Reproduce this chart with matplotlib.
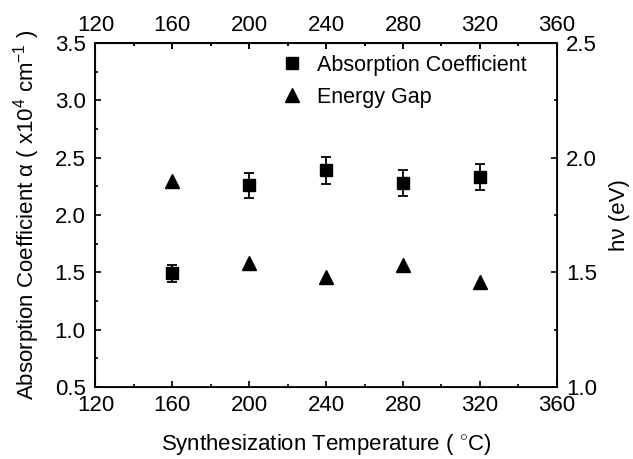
import numpy as np
import matplotlib
matplotlib.use('Agg')
import matplotlib.pyplot as plt
from matplotlib.ticker import MultipleLocator, FormatStrFormatter
from matplotlib.lines import Line2D

plt.rcParams['font.family'] = ['Liberation Sans', 'DejaVu Sans']
plt.rcParams['mathtext.fontset'] = 'custom'
plt.rcParams['mathtext.rm'] = 'Liberation Sans'
plt.rcParams['mathtext.it'] = 'Liberation Sans:italic'

# Data
temperature = [160, 200, 240, 280, 320]
absorption = [1.49, 2.26, 2.39, 2.28, 2.33]
absorption_err = [0.076, 0.11, 0.12, 0.11, 0.115]
energy_gap = [1.90, 1.54, 1.48, 1.53, 1.46]

FS = 16

fig = plt.figure(figsize=(6.33, 4.59), dpi=100)
ax = fig.add_axes([0.1507, 0.157, 0.729, 0.749])

ax.errorbar(temperature, absorption, yerr=absorption_err, fmt='s', color='black',
            markersize=8, capsize=3.5, elinewidth=1.3, capthick=1.3)

ax.set_xlim(120, 360)
ax.set_ylim(0.5, 3.5)
ax.xaxis.set_major_locator(MultipleLocator(40))
ax.xaxis.set_minor_locator(MultipleLocator(20))
ax.yaxis.set_major_locator(MultipleLocator(0.5))
ax.yaxis.set_minor_locator(MultipleLocator(0.25))
ax.yaxis.set_major_formatter(FormatStrFormatter('%.1f'))
ax.tick_params(which='both', direction='in', top=True, right=False,
               labelsize=FS, width=1.2)
ax.tick_params(which='major', length=4.5)
ax.tick_params(which='minor', length=2.5)
ax.tick_params(axis='x', pad=5.5)
ax.tick_params(axis='y', pad=7)
for s in ax.spines.values():
    s.set_linewidth(1.3)

# top axis labels
top = ax.secondary_xaxis('top')
top.xaxis.set_major_locator(MultipleLocator(40))
top.xaxis.set_minor_locator(MultipleLocator(20))
top.tick_params(which='both', direction='in', labelsize=FS, width=1.2, pad=5.5)
top.tick_params(which='major', length=4.5)
top.tick_params(which='minor', length=2.5)
top.spines['top'].set_linewidth(1.3)

ax.set_xlabel('Synthesization Temperature ( $^{\\circ}$C)', fontsize=FS, labelpad=12)
ax.set_ylabel('Absorption Coefficient \u03b1 ( x10$^4$ cm$^{-1}$ )', fontsize=FS, labelpad=9)

ax2 = ax.twinx()
ax2.plot(temperature, energy_gap, '^', color='black', markersize=10)
ax2.set_ylim(1.0, 2.5)
ax2.yaxis.set_major_locator(MultipleLocator(0.5))
ax2.yaxis.set_minor_locator(MultipleLocator(0.25))
ax2.yaxis.set_major_formatter(FormatStrFormatter('%.1f'))
ax2.tick_params(which='both', direction='in', labelsize=FS, width=1.2, pad=6.5)
ax2.tick_params(which='major', length=4.5)
ax2.tick_params(which='minor', length=2.5)
ax2.set_ylabel('h\u03bd (eV)', fontsize=FS, labelpad=9)

handles = [Line2D([], [], marker='s', color='black', linestyle='none', markersize=8),
           Line2D([], [], marker='^', color='black', linestyle='none', markersize=10)]
ax2.legend(handles, ['Absorption Coefficient', 'Energy Gap'], loc='upper left',
           bbox_to_anchor=(0.403, 0.966), frameon=False, fontsize=FS - 0.5,
           handlelength=1.0, handletextpad=0.64, labelspacing=0.5,
           borderpad=0, borderaxespad=0)

fig.savefig('out.png', dpi=100)
